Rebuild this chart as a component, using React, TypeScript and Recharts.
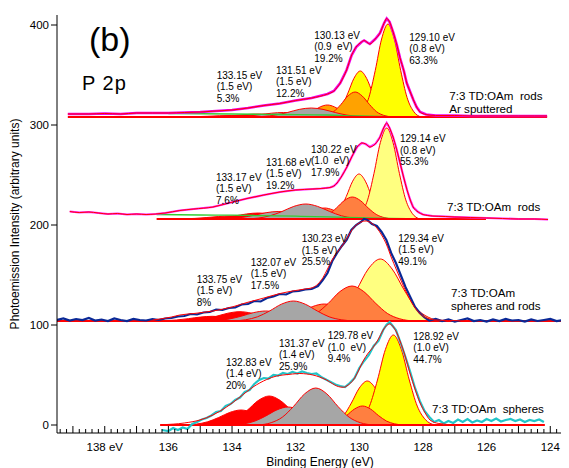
import React from 'react';
import { ComposedChart, XAxis, YAxis, Area, Line } from 'recharts';

type P = [number, number];

const FONT = '"Liberation Sans", Arial, Helvetica, sans-serif';
const W = 561;
const H = 460;

// ---------- axes ----------
const X_DOMAIN: [number, number] = [123.6, 139.5];
const Y_DOMAIN: [number, number] = [-8, 410];
const xLabelTicks = [138, 136, 134, 132, 130, 128, 126, 124];
const yTicks = [0, 100, 200, 300, 400];

// ---------- spectrum 1 : rods, Ar sputtered ----------
const s1Base = 308;
const s1Span: P = [139.16, 124.1];
const s1Data: P[] = [[139.16,311],[138.5,311],[138,311.5],[137.5,311],[137,312],[136.5,312],[136,312],[135.5,312.5],[135,313],[134.5,314],[134,315],[133.5,317],[133,319.5],[132.5,321.5],[132,324.5],[131.5,327],[131,331],[130.8,334],[130.6,342],[130.4,355],[130.24,370],[130.1,378],[129.93,383],[129.85,384.5],[129.67,381],[129.5,386],[129.35,392],[129.22,402],[129.14,406.5],[129.05,403],[128.93,392],[128.82,380],[128.72,367],[128.6,354],[128.51,342],[128.4,333],[128.3,325],[128.2,318],[128.09,313],[127.9,310.5],[127.6,309.5],[127,309.5],[126.5,309],[126,309],[125.5,309],[125,309],[124.5,309],[124.1,309]];
const s1Bg: P[] = [[136,311.5],[134,311],[132.5,310.5],[131,310],[130,309],[129,308.3],[128,308],[124.1,308]];
const s1RedP: P[] = [[135.97,0],[135.52,0.1],[135.15,0.3],[134.77,0.75],[134.4,1.26],[134.02,1.5],[133.65,1.26],[133.27,0.75],[132.9,0.3],[132.52,0.1],[132.07,0]];
const s1RedM: P[] = [[135.1,0],[134.65,0.2],[134.28,0.6],[133.9,1.5],[133.53,2.5],[133.15,3],[132.78,2.5],[132.4,1.5],[132.03,0.6],[131.65,0.2],[131.2,0]];
const s1GrayP: P[] = [[134.33,0],[133.88,0.3],[133.51,0.9],[133.13,2.25],[132.76,3.8],[132.38,4.5],[132.01,3.8],[131.63,2.25],[131.26,0.9],[130.88,0.3],[130.43,0]];
const s1GrayM: P[] = [[133.46,0],[133.01,0.6],[132.64,1.9],[132.26,4.5],[131.89,7.6],[131.51,9],[131.14,7.6],[130.76,4.5],[130.39,1.9],[130.01,0.6],[129.56,0]];
const s1YelP: P[] = [[131.01,0],[130.77,2.9],[130.57,9.7],[130.37,23],[130.17,38.6],[129.97,46],[129.77,38.6],[129.57,23],[129.37,9.7],[129.17,2.9],[128.93,0]];
const s1YelM: P[] = [[130.14,0],[129.9,5.8],[129.7,19.5],[129.5,46.5],[129.3,78],[129.1,93],[128.9,78],[128.7,46.5],[128.5,19.5],[128.3,5.8],[128.06,0]];
const s1OrP: P[] = [[132.17,0],[131.9,0.75],[131.68,2.5],[131.45,6],[131.23,10.1],[131,12],[130.78,10.1],[130.55,6],[130.33,2.5],[130.1,0.75],[129.83,0]];
const s1OrM: P[] = [[131.3,0],[131.03,1.6],[130.81,5.3],[130.58,12.5],[130.36,21],[130.13,25],[129.91,21],[129.68,12.5],[129.46,5.3],[129.23,1.6],[128.96,0]];

// ---------- spectrum 2 : rods ----------
const s2Base = 206;
const s2Span: P = [136.37, 126.02];
const s2Data: P[] = [[139.1,213.5],[138.8,212.5],[138.5,213],[138.2,212],[137.9,211],[137.6,211.5],[137.3,210.5],[137,211],[136.7,210.5],[136.4,211],[136.1,212],[135.64,214.5],[135.2,216],[134.6,218],[134.1,222],[133.53,226.5],[133,230],[132.49,233],[132,235],[131.46,236],[131.2,236.5],[130.92,237.5],[130.8,239],[130.7,242],[130.55,249],[130.39,258],[130.24,268],[130.07,278],[129.92,282],[129.8,281],[129.67,278],[129.5,281],[129.35,288],[129.25,296],[129.14,302],[129.05,297],[128.94,288],[128.83,276],[128.72,262],[128.61,248],[128.5,235],[128.4,225],[128.31,218],[128.15,213],[128,210.5],[127.7,209],[127.3,208.5],[127,208],[126.5,207.5],[126,207],[125.5,206.5],[125,206],[124.5,206],[124.07,205.5]];
const s2Bg: P[] = [[136.37,210.5],[135,210],[134,209.8],[133,209.3],[132,208.8],[131,208.2],[130,207.3],[129,206.5],[128,206.1],[126.02,206]];
const s2RedP: P[] = [[135.99,0],[135.54,0.2],[135.17,0.6],[134.79,1.5],[134.42,2.5],[134.04,3],[133.67,2.5],[133.29,1.5],[132.92,0.6],[132.54,0.2],[132.09,0]];
const s2RedM: P[] = [[135.12,0],[134.67,0.4],[134.3,1.3],[133.92,3],[133.55,5],[133.17,6],[132.8,5],[132.42,3],[132.05,1.3],[131.67,0.4],[131.22,0]];
const s2GrayP: P[] = [[134.5,0],[134.05,0.5],[133.68,1.6],[133.3,3.75],[132.93,6.3],[132.55,7.5],[132.18,6.3],[131.8,3.75],[131.43,1.6],[131.05,0.5],[130.6,0]];
const s2GrayM: P[] = [[133.63,0],[133.18,0.9],[132.81,3.2],[132.43,7.5],[132.06,12.6],[131.68,15],[131.31,12.6],[130.93,7.5],[130.56,3.2],[130.18,0.9],[129.73,0]];
const s2YelP: P[] = [[131.05,0],[130.81,2.8],[130.61,9.5],[130.41,22.5],[130.21,37.8],[130.01,45],[129.81,37.8],[129.61,22.5],[129.41,9.5],[129.21,2.8],[128.97,0]];
const s2YelM: P[] = [[130.18,0],[129.94,5.7],[129.74,19.1],[129.54,45.5],[129.34,76.4],[129.14,91],[128.94,76.4],[128.74,45.5],[128.54,19.1],[128.34,5.7],[128.1,0]];
const s2OrP: P[] = [[132.39,0],[132.09,0.7],[131.84,2.3],[131.59,5.5],[131.34,9.2],[131.09,11],[130.84,9.2],[130.59,5.5],[130.34,2.3],[130.09,0.7],[129.79,0]];
const s2OrM: P[] = [[131.52,0],[131.22,1.4],[130.97,4.6],[130.72,11],[130.47,18.5],[130.22,22],[129.97,18.5],[129.72,11],[129.47,4.6],[129.22,1.4],[128.92,0]];

// ---------- spectrum 3 : spheres and rods ----------
const s3Base = 104;
const s3Span: P = [139.5, 123.6];
const s3Data: P[] = [[139.5,105],[139.3,106.5],[139.1,104.5],[138.9,106],[138.7,105],[138.5,107],[138.3,104.5],[138.1,105.5],[137.9,104],[137.7,106.5],[137.5,105],[137.3,104],[137.1,106],[136.9,105],[136.7,104.5],[136.5,106],[136.3,105],[136.1,106.5],[135.9,107],[135.7,108.5],[135.5,109],[135.3,111],[135.1,110.5],[134.9,112.5],[134.7,113],[134.5,115.5],[134.3,115],[134.1,117],[133.9,117.5],[133.7,120.5],[133.5,121],[133.3,124],[133.1,123.5],[132.9,127],[132.7,128.5],[132.5,131],[132.3,130.5],[132.1,133.5],[131.9,134],[131.7,135.5],[131.5,136],[131.3,139],[131.15,145],[131,152],[130.85,164],[130.7,172],[130.55,179],[130.4,185],[130.25,195],[130.1,200],[129.95,203],[129.85,206],[129.75,205],[129.6,201],[129.45,199],[129.3,193],[129.15,185],[129,172],[128.85,162],[128.7,150],[128.55,138],[128.4,128],[128.25,118],[128.1,112],[127.95,107.5],[127.8,104.5],[127.6,106],[127.4,104],[127.2,105.5],[127,103.5],[126.8,105],[126.6,106.5],[126.4,104],[126.2,105],[126,103.5],[125.8,105.5],[125.6,104],[125.4,106],[125.2,104.5],[125,105],[124.8,103.5],[124.6,105.5],[124.4,104],[124.2,105],[124,106],[123.8,104],[123.6,105]];
const s3Fit: P[] = [[136.5,105],[135.9,108],[135.64,110],[135.2,111.5],[134.6,114],[134,118],[133.53,122.5],[133,127],[132.49,131.5],[132,134.5],[131.7,136],[131.46,137.5],[131.3,141],[131.14,147.5],[131,156],[130.83,166.5],[130.67,174],[130.51,180.5],[130.35,189],[130.2,196.5],[130,202],[129.82,204],[129.65,202.5],[129.45,197],[129.3,190],[129.14,180],[129,168],[128.83,155],[128.67,143],[128.51,132],[128.35,122],[128.2,115],[128.05,110],[127.88,107],[127.6,105],[127.2,104.5],[126.5,104]];
const s3RedP: P[] = [[136.57,0],[136.12,0.3],[135.75,1],[135.37,2.35],[135,3.9],[134.62,4.7],[134.25,3.9],[133.87,2.35],[133.5,1],[133.12,0.3],[132.67,0]];
const s3RedM: P[] = [[135.7,0],[135.25,0.6],[134.88,2],[134.5,4.65],[134.13,7.8],[133.75,9.3],[133.38,7.8],[133,4.65],[132.63,2],[132.25,0.6],[131.8,0]];
const s3GrayP: P[] = [[134.89,0],[134.44,0.6],[134.07,2.1],[133.69,5],[133.32,8.4],[132.94,10],[132.57,8.4],[132.19,5],[131.82,2.1],[131.44,0.6],[130.99,0]];
const s3GrayM: P[] = [[134.02,0],[133.57,1.25],[133.2,4.2],[132.82,10],[132.45,16.8],[132.07,20],[131.7,16.8],[131.32,10],[130.95,4.2],[130.57,1.25],[130.12,0]];
const s3YelP: P[] = [[132.16,0],[131.71,1.9],[131.34,6.5],[130.96,15.5],[130.59,26],[130.21,31],[129.84,26],[129.46,15.5],[129.09,6.5],[128.71,1.9],[128.26,0]];
const s3YelM: P[] = [[131.29,0],[130.84,3.9],[130.47,13],[130.09,31],[129.72,52],[129.34,62],[128.97,52],[128.59,31],[128.22,13],[127.84,3.9],[127.39,0]];
const s3OrP: P[] = [[133.05,0],[132.6,1.1],[132.23,3.6],[131.85,8.5],[131.48,14.3],[131.1,17],[130.73,14.3],[130.35,8.5],[129.98,3.6],[129.6,1.1],[129.15,0]];
const s3OrM: P[] = [[132.18,0],[131.73,2.2],[131.36,7.4],[130.98,17.5],[130.61,29.4],[130.23,35],[129.86,29.4],[129.48,17.5],[129.11,7.4],[128.73,2.2],[128.28,0]];

// ---------- spectrum 4 : spheres ----------
const s4Base = 0;
const s4Span: P = [136.26, 124.17];
const s4Data: P[] = [[136.2,-5],[136,-6],[135.85,-3],[135.7,-5],[135.55,-2.5],[135.4,-4],[135.25,1],[135.1,3],[134.95,5.5],[134.8,7],[134.65,9.5],[134.5,13],[134.35,14],[134.2,19],[134.05,21],[133.9,25],[133.75,27.5],[133.6,33],[133.45,35],[133.3,41],[133.15,45],[133,47],[132.85,46.5],[132.7,50],[132.55,49.5],[132.4,52],[132.25,51],[132.1,53],[131.95,51.5],[131.8,53.5],[131.65,52],[131.5,51],[131.35,51.5],[131.2,48],[131.05,45.5],[130.9,43],[130.75,40.5],[130.6,39],[130.45,38],[130.3,42],[130.15,47],[130,57],[129.85,64],[129.7,70],[129.55,79],[129.4,84],[129.25,95],[129.15,100],[129.05,103],[128.95,99],[128.85,95],[128.7,82],[128.55,68],[128.4,53],[128.25,37],[128.1,24],[127.95,14],[127.8,8],[127.65,3],[127.5,5],[127.35,1.5],[127.2,4],[127.05,2],[126.9,5.5],[126.75,3],[126.6,6],[126.45,2.5],[126.3,4.5],[126.15,3],[126,6],[125.85,4],[125.7,6.5],[125.55,3.5],[125.4,5],[125.25,6],[125.1,4],[124.95,5.5],[124.8,3],[124.65,5],[124.5,4],[124.35,5.5],[124.2,3]];
const s4Fit: P[] = [[136.2,0.3],[135.5,2],[135.01,5],[134.6,10],[134.17,18],[133.75,28],[133.34,38],[132.91,45.5],[132.6,49],[132.4,50],[132.1,51],[131.87,51.5],[131.65,51],[131.46,50],[131.25,48],[131.03,45],[130.85,41.5],[130.71,39],[130.6,38],[130.5,37.7],[130.35,40],[130.19,45],[130.03,54],[129.88,64],[129.72,72],[129.56,78],[129.4,86],[129.25,95],[129.14,99.5],[129.04,101],[128.93,98],[128.82,92],[128.72,84],[128.56,69],[128.41,52],[128.25,36],[128.09,22],[127.93,12],[127.78,5],[127.5,1.5],[127,0.2],[124.2,0]];
const s4RedP: P[] = [[135.54,0],[135.12,0.9],[134.77,3.2],[134.42,7.5],[134.07,12.6],[133.72,15],[133.37,12.6],[133.02,7.5],[132.67,3.2],[132.32,0.9],[131.9,0]];
const s4RedM: P[] = [[134.65,0],[134.23,1.8],[133.88,6.1],[133.53,14.5],[133.18,24.4],[132.83,29],[132.48,24.4],[132.13,14.5],[131.78,6.1],[131.43,1.8],[131.01,0]];
const s4GrayP: P[] = [[134.06,0],[133.64,1.1],[133.29,3.8],[132.94,9],[132.59,15.1],[132.24,18],[131.89,15.1],[131.54,9],[131.19,3.8],[130.84,1.1],[130.42,0]];
const s4GrayM: P[] = [[133.19,0],[132.77,2.3],[132.42,7.8],[132.07,18.5],[131.72,31.1],[131.37,37],[131.02,31.1],[130.67,18.5],[130.32,7.8],[129.97,2.3],[129.55,0]];
const s4YelP: P[] = [[131.05,0],[130.75,2.75],[130.5,9.2],[130.25,22],[130,37],[129.75,44],[129.5,37],[129.25,22],[129,9.2],[128.75,2.75],[128.45,0]];
const s4YelM: P[] = [[130.23,0],[129.93,5.6],[129.68,18.9],[129.43,45],[129.18,75.6],[128.93,90],[128.68,75.6],[128.43,45],[128.18,18.9],[127.93,5.6],[127.63,0]];
const s4OrP: P[] = [[132.05,0],[131.75,0.6],[131.5,2],[131.25,4.75],[131,8],[130.75,9.5],[130.5,8],[130.25,4.75],[130,2],[129.75,0.6],[129.45,0]];
const s4OrM: P[] = [[131.2,0],[130.9,1.2],[130.65,4],[130.4,9.5],[130.15,16],[129.9,19],[129.65,16],[129.4,9.5],[129.15,4],[128.9,1.2],[128.6,0]];

// ---------- annotation texts ----------
const s1Notes = [['133.15 eV', '(1.5 eV)', '5.3%'], ['131.51 eV', '(1.5 eV)', '12.2%'], ['130.13 eV', '(0.9  eV)', '19.2%'], ['129.10 eV', '(0.8 eV)', '63.3%']];
const s2Notes = [['133.17 eV', '(1.5 eV)', '7.6%'], ['131.68 eV', '(1.5 eV)', '19.2%'], ['130.22 eV', '(1.0  eV)', '17.9%'], ['129.14 eV', '(0.8 eV)', '55.3%']];
const s3Notes = [['133.75 eV', '(1.5 eV)', '8%'], ['132.07 eV', '(1.5 eV)', '17.5%'], ['130.23 eV', '(1.5 eV)', '25.5%'], ['129.34 eV', '(1.5 eV)', '49.1%']];
const s4Notes = [['132.83 eV', '(1.4 eV)', '20%'], ['131.37 eV', '(1.4 eV)', '25.9%'], ['129.78 eV', '(1.0  eV)', '9.4%'], ['128.92 eV', '(1.0 eV)', '44.7%']];
const sampleNames = [['7:3 TD:OAm  rods', 'Ar sputtered'], ['7:3 TD:OAm  rods'], ['7:3 TD:OAm', 'spheres and rods'], ['7:3 TD:OAm  spheres']];

// ---------- layout (page pixel positions of text blocks) ----------
const notePos: P[][] = [
  [[216.7, 79], [276, 74], [314.3, 39], [409.3, 40.7]],
  [[216, 180.7], [266, 165.7], [311, 152.7], [400, 142.3]],
  [[196.7, 282.7], [250.7, 265.7], [301.7, 242.3], [398.3, 242]],
  [[226, 365.7], [279, 346.7], [327.7, 339.3], [413.3, 340]],
];
const namePos: P[] = [[449.3, 100], [447, 210.5], [451, 297], [432, 413]];

const RED = '#ff0000';
const GRAY = '#a6a6a6';
const YEL = '#ffff00';
const YEL_PALE = '#ffff80';
const ORANGE = '#ffa200';
const CORAL = '#ff7f40';
const GREEN = '#33cc33';

type Comp = { pts: P[]; fill: string };
type Spec = { base: number; span: P; data: P[]; fit: P[]; bg?: P[]; comps: Comp[]; color: string; width: number };

const spectra: Spec[] = [
  { base: s1Base, span: s1Span, data: s1Data, fit: s1Data, bg: s1Bg, color: '#ee00ee', width: 2.6,
    comps: [{ pts: s1YelP, fill: YEL }, { pts: s1YelM, fill: YEL }, { pts: s1OrP, fill: ORANGE }, { pts: s1OrM, fill: ORANGE }, { pts: s1RedP, fill: RED }, { pts: s1RedM, fill: RED }, { pts: s1GrayP, fill: GRAY }, { pts: s1GrayM, fill: GRAY }] },
  { base: s2Base, span: s2Span, data: s2Data, fit: s2Data, bg: s2Bg, color: '#ff22ff', width: 2.2,
    comps: [{ pts: s2YelP, fill: YEL_PALE }, { pts: s2YelM, fill: YEL_PALE }, { pts: s2OrP, fill: CORAL }, { pts: s2OrM, fill: CORAL }, { pts: s2RedP, fill: RED }, { pts: s2RedM, fill: RED }, { pts: s2GrayP, fill: GRAY }, { pts: s2GrayM, fill: GRAY }] },
  { base: s3Base, span: s3Span, data: s3Data, fit: s3Fit, color: '#0a2896', width: 2.2,
    comps: [{ pts: s3YelP, fill: YEL_PALE }, { pts: s3YelM, fill: YEL_PALE }, { pts: s3OrP, fill: CORAL }, { pts: s3OrM, fill: CORAL }, { pts: s3RedP, fill: RED }, { pts: s3RedM, fill: RED }, { pts: s3GrayP, fill: GRAY }, { pts: s3GrayM, fill: GRAY }] },
  { base: s4Base, span: s4Span, data: s4Data, fit: s4Fit, color: '#22c4c8', width: 2.2,
    comps: [{ pts: s4YelP, fill: YEL }, { pts: s4YelM, fill: YEL }, { pts: s4OrP, fill: CORAL }, { pts: s4OrM, fill: CORAL }, { pts: s4RedP, fill: RED }, { pts: s4RedM, fill: RED }, { pts: s4GrayP, fill: GRAY }, { pts: s4GrayM, fill: GRAY }] },
];

const toPts = (arr: P[], base = 0) => arr.map(([e, v]) => ({ e, v: v + base }));

// minor tick positions every 0.2 eV
const minorTicks: number[] = [];
for (let i = 618; i <= 697; i++) minorTicks.push(i / 5);

const isInt = (v: number) => Math.abs(v - Math.round(v)) < 1e-6;

const BottomTick = (props: any) => {
  const { x, y, payload } = props;
  const v = payload.value as number;
  const len = isInt(v) ? 7 : 4;
  const r = Math.round(v);
  const show = isInt(v) && xLabelTicks.includes(r);
  return (
    <g>
      <line x1={x} x2={x} y1={y} y2={y - len} stroke="#000" strokeWidth={1} />
      {show && (
        <text x={x} y={y + 18} textAnchor="middle" fontSize={11.5} fontFamily={FONT} fill="#000">
          {r === 138 ? '138 eV' : String(r)}
        </text>
      )}
    </g>
  );
};

const TopTick = (props: any) => {
  const { x, y, payload } = props;
  const v = payload.value as number;
  const len = isInt(v) ? 7 : 4;
  return <line x1={x} x2={x} y1={y} y2={y + len} stroke="#000" strokeWidth={1} />;
};

export default function App() {
  const els: React.ReactNode[] = [];
  spectra.forEach((s, i) => {
    s.comps.forEach((c, j) => {
      els.push(
        <Area key={`a${i}-${j}`} data={toPts(c.pts, s.base)} dataKey="v" type="monotone" baseValue={s.base}
          fill={c.fill} fillOpacity={1} stroke={RED} strokeWidth={1} isAnimationActive={false} dot={false} activeDot={false} />
      );
    });
    if (s.bg) {
      els.push(<Line key={`g${i}`} data={toPts(s.bg)} dataKey="v" type="monotone" stroke={GREEN} strokeWidth={1.3} dot={false} activeDot={false} isAnimationActive={false} />);
    }
    els.push(<Line key={`b${i}`} data={[{ e: s.span[0], v: s.base }, { e: s.span[1], v: s.base }]} dataKey="v" stroke={RED} strokeWidth={2} dot={false} activeDot={false} isAnimationActive={false} />);
    els.push(<Line key={`d${i}`} data={toPts(s.data)} dataKey="v" type="linear" stroke={s.color} strokeWidth={s.width} dot={false} activeDot={false} isAnimationActive={false} />);
    els.push(<Line key={`f${i}`} data={toPts(s.fit)} dataKey="v" type="monotone" stroke={RED} strokeWidth={1} dot={false} activeDot={false} isAnimationActive={false} />);
  });

  const allNotes = [s1Notes, s2Notes, s3Notes, s4Notes];

  return (
    <div style={{ position: 'relative', width: W, height: H }}>
      <ComposedChart width={W} height={H} margin={{ top: 7, right: 0, bottom: 0, left: 0 }}>
        <XAxis xAxisId={0} type="number" dataKey="e" domain={X_DOMAIN} reversed allowDataOverflow ticks={minorTicks} interval={0}
          tickLine={false} tickSize={0} tickMargin={0} height={35} tick={BottomTick} axisLine={{ stroke: '#000', strokeWidth: 1 }} />
        <XAxis xAxisId="top" orientation="top" type="number" dataKey="e" domain={X_DOMAIN} reversed allowDataOverflow ticks={minorTicks} interval={0}
          tickLine={false} tickSize={0} tickMargin={0} height={0} tick={TopTick} axisLine={{ stroke: '#000', strokeWidth: 1 }} />
        <YAxis yAxisId={0} type="number" domain={Y_DOMAIN} allowDataOverflow ticks={yTicks} interval={0} width={49} tickSize={6} tickMargin={2}
          tick={{ fontSize: 11.5, fill: '#000', fontFamily: FONT }} axisLine={{ stroke: '#000', strokeWidth: 1 }} tickLine={{ stroke: '#000' }} />
        <YAxis yAxisId="right" orientation="right" type="number" domain={Y_DOMAIN} allowDataOverflow ticks={yTicks} interval={0} width={6} tickSize={5}
          tick={false} axisLine={false} tickLine={{ stroke: '#000' }} />
        {els}
      </ComposedChart>
      <svg width={W} height={H} style={{ position: 'absolute', left: 0, top: 0, pointerEvents: 'none', overflow: 'visible' }}>
        <g transform="translate(-8,-8)" fontFamily={FONT} fill="#000">
          <text x={89} y={51} fontSize={34}>(b)</text>
          <text x={82} y={90} fontSize={20} letterSpacing={1} xmlSpace="preserve" style={{ whiteSpace: 'pre' }}>P 2p</text>
          {allNotes.map((notes, i) =>
            notes.map((lines, j) => (
              <text key={`n${i}-${j}`} x={notePos[i][j][0]} y={notePos[i][j][1]} fontSize={10} xmlSpace="preserve" style={{ whiteSpace: 'pre' }}>
                {lines.map((l, k) => (
                  <tspan key={k} x={notePos[i][j][0]} dy={k === 0 ? 0 : 11.4}>{l}</tspan>
                ))}
              </text>
            ))
          )}
          {sampleNames.map((lines, i) => (
            <text key={`s${i}`} x={namePos[i][0]} y={namePos[i][1]} fontSize={11.6} xmlSpace="preserve" style={{ whiteSpace: 'pre' }}>
              {lines.map((l, k) => (
                <tspan key={k} x={namePos[i][0]} dy={k === 0 ? 0 : 13.3}>{l}</tspan>
              ))}
            </text>
          ))}
          <text x={320} y={466} fontSize={12} textAnchor="middle">Binding Energy (eV)</text>
          <text transform="translate(15,224) rotate(-90)" fontSize={12} textAnchor="middle" dominantBaseline="central">
            Photoemission Intensity (arbitrary units)
          </text>
        </g>
      </svg>
    </div>
  );
}
